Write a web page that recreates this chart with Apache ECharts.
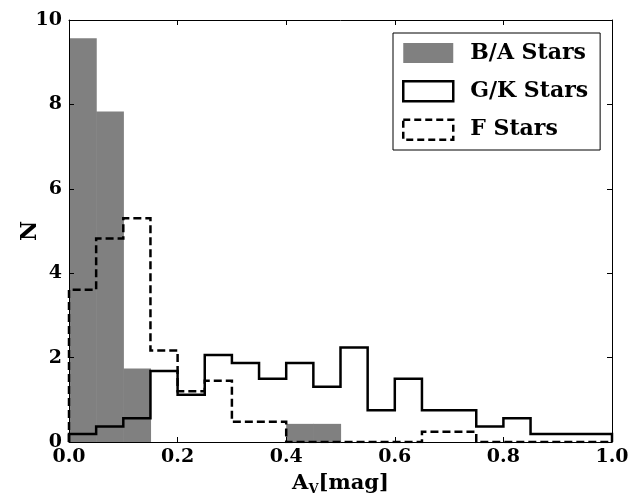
<!DOCTYPE html>
<html>
<head>
<meta charset="utf-8">
<script src="https://cdn.jsdelivr.net/npm/echarts@6/dist/echarts.min.js"></script>
<style>html,body{margin:0;padding:0;background:#fff}#c{width:631px;height:497px}</style>
</head>
<body>
<div id="c"></div>
<script>
// Bin edges (A_V, mag)
var binEdges = [0.00,0.05,0.10,0.15,0.20,0.25,0.30,0.35,0.40,0.45,0.50,0.55,0.60,0.65,0.70,0.75,0.80,0.85,0.90,0.95,1.00];
// Normalized counts per bin
var baStars = [9.57,7.83,1.74,0,0,0,0,0,0.43,0.43,0,0,0,0,0,0,0,0,0,0];
var gkStars = [0.19,0.37,0.56,1.68,1.12,2.06,1.87,1.50,1.87,1.31,2.24,0.75,1.50,0.75,0.75,0.37,0.56,0.19,0.19,0.19];
var fStars  = [3.61,4.82,5.30,2.17,1.20,1.45,0.48,0.48,0,0,0,0,0,0.24,0.24,0,0,0,0,0];
var xTicks = [0.0,0.2,0.4,0.6,0.8,1.0];
var yTicks = [0,2,4,6,8,10];
var seriesNames = ['B/A Stars','G/K Stars','F Stars'];

function stepPoints(vals){
  var pts = [[binEdges[0],0]];
  for (var i=0;i<vals.length;i++){
    pts.push([binEdges[i],vals[i]]);
    pts.push([binEdges[i+1],vals[i]]);
  }
  pts.push([binEdges[binEdges.length-1],0]);
  return pts;
}
var barData = baStars.map(function(v,i){return [binEdges[i],binEdges[i+1],v];});

var FONT = 'DejaVu Serif';
var chart = echarts.init(document.getElementById('c'), null, {renderer:'canvas'});
var axisCommonX = {
  type:'value', min:0, max:1, interval:0.2, z:5,
  axisLine:{show:true,onZero:false,lineStyle:{color:'#000',width:1}},
  axisTick:{show:true,inside:true,length:5,lineStyle:{color:'#000',width:1}},
  splitLine:{show:false}
};
var axisCommonY = {
  type:'value', min:0, max:10, interval:2, z:5,
  axisLine:{show:true,onZero:false,lineStyle:{color:'#000',width:1}},
  axisTick:{show:true,inside:true,length:5,lineStyle:{color:'#000',width:1}},
  splitLine:{show:false}
};
chart.setOption({
  animation:false,
  backgroundColor:'#fff',
  grid:{left:69,right:19,top:20,bottom:55,containLabel:false,outerBoundsMode:'none'},
  xAxis:[
    Object.assign({}, axisCommonX, {
      position:'bottom',
      axisLabel:{show:true,margin:6,color:'#000',fontFamily:FONT,fontWeight:'bold',fontSize:19,
        formatter:function(v){return xTicks.indexOf(+v.toFixed(1))>=0 ? v.toFixed(1) : '';}},
      name:'{a|A}{s|V}{a|[mag]}', nameLocation:'middle', nameGap:29, nameMoveOverlap:false,
      nameTextStyle:{rich:{
        a:{fontFamily:FONT,fontWeight:'bold',fontSize:21,color:'#000'},
        s:{fontFamily:FONT,fontWeight:'bold',fontSize:13,color:'#000',padding:[12,0,0,0]}
      }}
    }),
    Object.assign({}, axisCommonX, {position:'top',axisLabel:{show:false}})
  ],
  yAxis:[
    Object.assign({}, axisCommonY, {
      position:'left',
      axisLabel:{show:true,margin:7,color:'#000',fontFamily:FONT,fontWeight:'bold',fontSize:19},
      name:'N', nameLocation:'middle', nameGap:28, nameRotate:90, nameMoveOverlap:false,
      nameTextStyle:{fontFamily:FONT,fontWeight:'bold',fontSize:22,color:'#000'}
    }),
    Object.assign({}, axisCommonY, {position:'right',axisLabel:{show:false}})
  ],
  legend:{
    orient:'vertical', left:393, top:33,
    itemWidth:50, itemHeight:20, itemGap:16,
    padding:[9,12,9,9],
    borderColor:'#000', borderWidth:1, backgroundColor:'#fff',
    textStyle:{fontFamily:FONT,fontWeight:'bold',fontSize:22,color:'#000',padding:[0,0,0,12]},
    data:[
      {name:seriesNames[0],icon:'rect',itemStyle:{color:'#808080',borderWidth:0}},
      {name:seriesNames[1],icon:'rect',itemStyle:{color:'#fff',borderColor:'#000',borderWidth:2.5,borderType:'solid'}},
      {name:seriesNames[2],icon:'rect',itemStyle:{color:'#fff',borderColor:'#000',borderWidth:2.5,borderType:[7,4]}}
    ]
  },
  series:[
    {
      name:seriesNames[0], type:'custom', data:barData, z:1,
      itemStyle:{color:'#808080'},
      encode:{x:[0,1],y:2},
      renderItem:function(params,api){
        var v = api.value(2);
        if (!v) return null;
        var p0 = api.coord([api.value(0), v]);
        var p1 = api.coord([api.value(1), 0]);
        return {type:'rect', shape:{x:p0[0],y:p0[1],width:p1[0]-p0[0]+0.6,height:p1[1]-p0[1]},
          style:{fill:'#808080'}};
      }
    },
    {
      name:seriesNames[1], type:'line', data:stepPoints(gkStars), z:3,
      symbol:'none', itemStyle:{color:'#000'},
      lineStyle:{color:'#000',width:2.5,join:'miter',cap:'butt'}
    },
    {
      name:seriesNames[2], type:'line', data:stepPoints(fStars), z:4,
      symbol:'none', itemStyle:{color:'#000'},
      lineStyle:{color:'#000',width:2.5,type:[8,4],join:'miter',cap:'butt'}
    }
  ]
});
</script>
</body>
</html>
